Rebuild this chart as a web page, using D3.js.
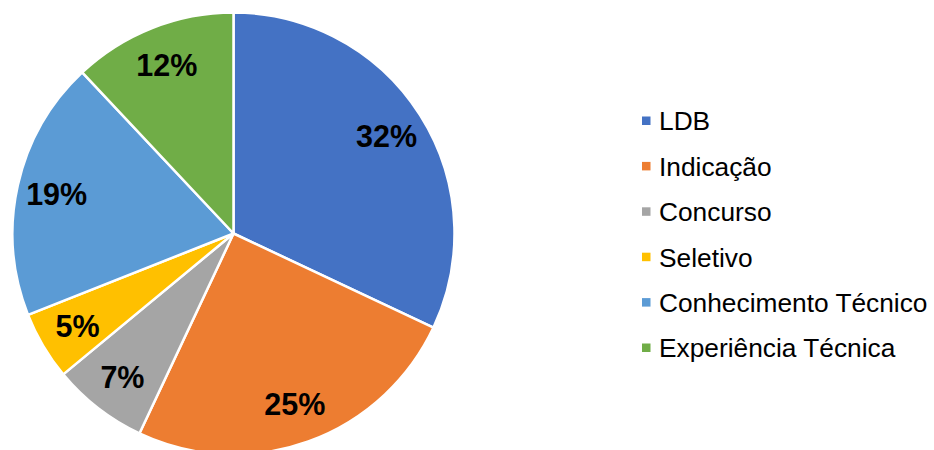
<!DOCTYPE html>
<html>
<head>
<meta charset="utf-8">
<script src="https://cdn.jsdelivr.net/npm/d3@7"></script>
<style>
  html, body { margin: 0; padding: 0; background: #fff; }
  svg { display: block; }
</style>
</head>
<body>
<svg id="chart" width="934" height="450"></svg>
<script>
// Formas de ingresso — share of each category
const categories = ["LDB", "Indicação", "Concurso", "Seletivo", "Conhecimento Técnico", "Experiência Técnica"];
const values = [32, 25, 7, 5, 19, 12];
const colors = ["#4472C4", "#ED7D31", "#A5A5A5", "#FFC000", "#5B9BD5", "#70AD47"];

const data = categories.map((c, i) => ({ name: c, value: values[i], color: colors[i] }));

const svg = d3.select("#chart");
const cx = 233.5, cy = 233.5, R = 221;

const pie = d3.pie().value(d => d.value).sort(null);
const arcs = pie(data);
const arc = d3.arc().innerRadius(0).outerRadius(R);
const labelArc = d3.arc().innerRadius(R * 0.64).outerRadius(R);

const g = svg.append("g").attr("transform", `translate(${cx},${cy})`);

g.selectAll("path.slice")
  .data(arcs)
  .join("path")
  .attr("class", "slice")
  .attr("d", arc)
  .attr("fill", d => d.data.color)
  .attr("stroke", "#fff")
  .attr("stroke-width", 2.5)
  .attr("stroke-linejoin", "round");

g.selectAll("text.pct")
  .data(arcs)
  .join("text")
  .attr("class", "pct")
  .attr("transform", d => `translate(${labelArc.centroid(d)})`)
  .attr("text-anchor", "middle")
  .attr("dy", "0.36em")
  .style("font-family", "'Liberation Sans', Arial, sans-serif")
  .style("font-weight", "bold")
  .style("font-size", "30.5px")
  .attr("fill", "#000")
  .text(d => d.data.value + "%");

// Legend
const legend = svg.append("g").attr("transform", "translate(642,121)");
const rowH = 45.4;
const items = legend.selectAll("g.item")
  .data(data)
  .join("g")
  .attr("class", "item")
  .attr("transform", (d, i) => `translate(0,${i * rowH})`);

items.append("rect")
  .attr("x", 0).attr("y", -4.5)
  .attr("width", 8.5).attr("height", 8.5)
  .attr("fill", d => d.color);

items.append("text")
  .attr("x", 17)
  .attr("dy", "0.36em")
  .style("font-family", "'Liberation Sans', Arial, sans-serif")
  .style("font-size", "26.3px")
  .attr("fill", "#000")
  .text(d => d.name);
</script>
</body>
</html>
